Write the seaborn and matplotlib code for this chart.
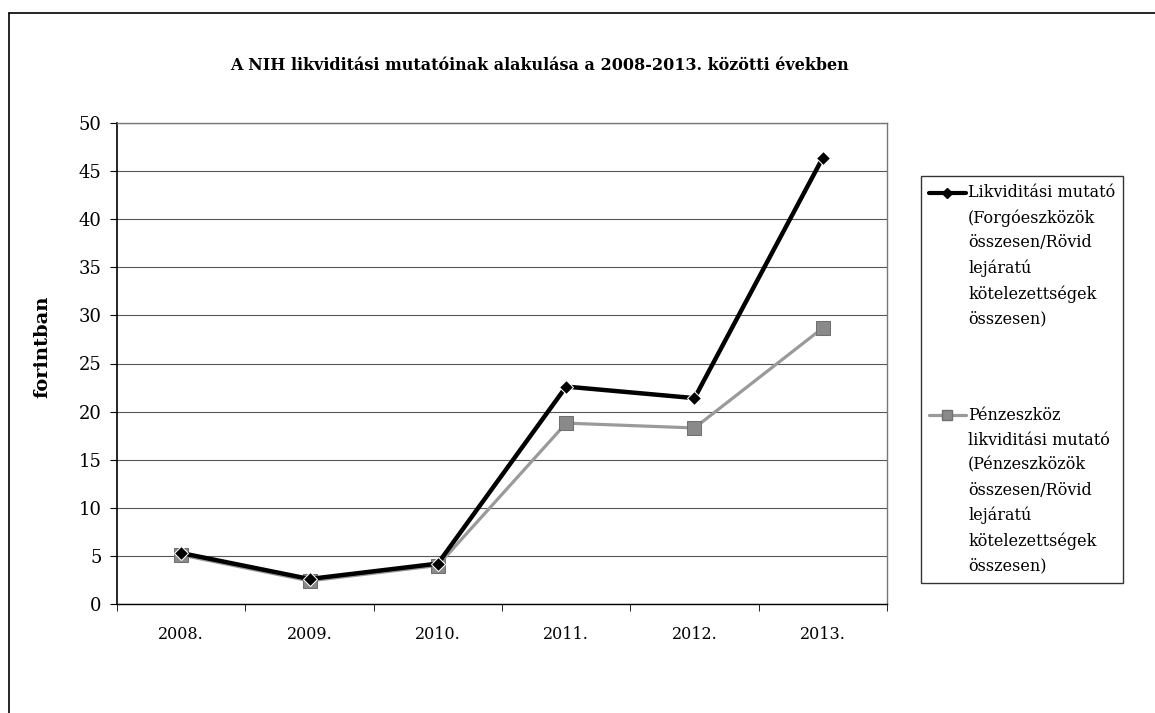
import pandas as pd
import seaborn as sns
import numpy as np
from matplotlib import pyplot as plt
from matplotlib.lines import Line2D
from matplotlib.legend_handler import HandlerLine2D

# Data
years = ['2008.', '2009.', '2010.', '2011.', '2012.', '2013.']
likviditasi = [5.3, 2.6, 4.2, 22.6, 21.4, 46.4]
penzeszkoz = [5.1, 2.4, 4.0, 18.8, 18.3, 28.7]

label_1 = 'Likviditási mutató\n(Forgóeszközök\nösszesen/Rövid\nlejáratú\nkötelezettségek\nösszesen)'
label_2 = 'Pénzeszköz\nlikviditási mutató\n(Pénzeszközök\nösszesen/Rövid\nlejáratú\nkötelezettségek\nösszesen)'

LEG_FS = 11.5
LINE_SP = 1.6


class TopHandler(HandlerLine2D):
    # put the legend key next to the first text line instead of the middle
    def __init__(self, nlines, **kw):
        super().__init__(**kw)
        self.nlines = nlines

    def create_artists(self, legend, orig_handle, xdescent, ydescent,
                       width, height, fontsize, trans):
        shift = (self.nlines - 1) * fontsize * LINE_SP
        return super().create_artists(legend, orig_handle, xdescent,
                                      ydescent - shift, width, height,
                                      fontsize, trans)


if __name__ == '__main__':
    sns.set_style('white')
    plt.rcParams['font.family'] = ['DejaVu Serif']
    plt.rcParams['text.color'] = 'black'
    plt.rcParams['axes.labelcolor'] = 'black'
    plt.rcParams['xtick.color'] = 'black'
    plt.rcParams['ytick.color'] = 'black'

    df = pd.DataFrame({'ev': years, 'l1': likviditasi, 'l2': penzeszkoz})

    fig = plt.figure(figsize=(11.55, 7.13), dpi=100)
    ax = fig.add_axes([117 / 1155, 1 - 604 / 713, 770 / 1155, 481 / 713])

    sns.lineplot(data=df, x='ev', y='l2', ax=ax, color='#9a9a9a', lw=2.3,
                 marker='s', markersize=10, markeredgecolor='#707070',
                 markerfacecolor='#8a8a8a', zorder=3)
    sns.lineplot(data=df, x='ev', y='l1', ax=ax, color='black', lw=3.2,
                 marker='D', markersize=7.5, zorder=4)

    ax.set_xlim(-0.5, 5.5)
    ax.set_ylim(0, 50)
    ax.set_yticks(np.arange(0, 51, 5))
    ax.yaxis.grid(True, color='#555555', lw=0.8)
    ax.set_xlabel('')
    ax.set_ylabel('forintban', fontsize=14, fontweight='bold')
    ax.yaxis.set_label_coords(-0.085, 0.534)
    ax.tick_params(axis='y', labelsize=13, length=5, direction='out', left=True, pad=6)
    ax.tick_params(axis='x', labelsize=11.5, length=0, pad=16)
    ax.set_xticks(np.arange(-0.5, 5.6, 1), minor=True)
    ax.tick_params(axis='x', which='minor', length=5, direction='out', bottom=True)

    for s in ['top', 'right']:
        ax.spines[s].set_color('#777777')
        ax.spines[s].set_linestyle((0, (1, 1)))
        ax.spines[s].set_linewidth(1)
    ax.spines['left'].set_color('black')
    ax.spines['bottom'].set_color('black')
    ax.spines['left'].set_linewidth(1.2)
    ax.spines['bottom'].set_linewidth(1)

    fig.text(540 / 1155, 1 - 65 / 713,
             'A NIH likviditási mutatóinak alakulása a 2008-2013. közötti években',
             ha='center', va='center', fontsize=11.5, fontweight='bold')

    h1 = Line2D([], [], color='black', lw=3, marker='D', markersize=5)
    h2 = Line2D([], [], color='#9a9a9a', lw=2.3, marker='s', markersize=7,
                markeredgecolor='#707070', markerfacecolor='#8a8a8a')
    leg = fig.legend([h1, h2], [label_1, label_2], loc='upper left',
                     bbox_to_anchor=(913 / 1155, 1 - 168 / 713),
                     fontsize=LEG_FS, frameon=True, fancybox=False,
                     edgecolor='black', handlelength=2.3, handletextpad=0.15,
                     labelspacing=5.0, borderpad=0.5,
                     handler_map={h1: TopHandler(6), h2: TopHandler(7)})
    leg.get_frame().set_linewidth(1)
    for t in leg.get_texts():
        t.set_linespacing(LINE_SP)

    # outer chart border
    fig.add_artist(Line2D([9 / 1155, 9 / 1155], [0, 1 - 13 / 713], color='black', lw=1.2))
    fig.add_artist(Line2D([9 / 1155, 1], [1 - 13 / 713, 1 - 13 / 713], color='black', lw=1.2))

    plt.savefig('out.png', dpi=100)
